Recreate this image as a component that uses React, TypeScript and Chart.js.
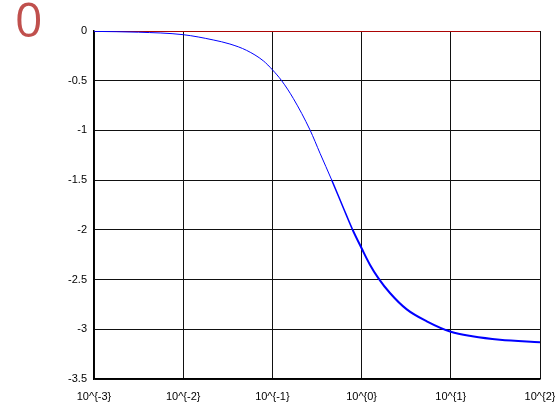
import React, { useEffect, useRef } from 'react';
import { Chart, registerables } from 'chart.js';

Chart.register(...registerables);

// frequency samples (x) and phase values (y)
const freq = [0.001, 0.00316, 0.01, 0.0217, 0.0334, 0.0514, 0.0791, 0.1, 0.127, 0.172, 0.264, 0.342, 0.462, 0.625, 0.794, 1, 1.24, 1.54, 2.08, 3.21, 5.38, 10, 17.4, 35.5, 100];
const phase = [-0.004, -0.012, -0.037, -0.09, -0.131, -0.195, -0.3, -0.39, -0.5, -0.68, -0.995, -1.23, -1.498, -1.78, -2.0, -2.185, -2.35, -2.485, -2.635, -2.8, -2.92, -3.025, -3.07, -3.105, -3.13];

// reference line at zero
const zeroX = [0.001, 100];
const zeroY = [0, 0];

const xTickValues = [0.001, 0.01, 0.1, 1, 10, 100];
const xTickLabels = ['10^{-3}', '10^{-2}', '10^{-1}', '10^{0}', '10^{1}', '10^{2}'];
const yTickValues = [-3.5, -3, -2.5, -2, -1.5, -1, -0.5, 0];
const yTickLabels = ['-3.5', '-3', '-2.5', '-2', '-1.5', '-1', '-0.5', '0'];

const titleText = '0';

export default function App() {
  const ref = useRef<HTMLCanvasElement | null>(null);

  useEffect(() => {
    if (!ref.current) return;
    const tickFont = { family: 'Liberation Sans', size: 11 };
    const chart = new Chart(ref.current, {
      type: 'line',
      data: {
        datasets: [
          {
            data: freq.map((f, i) => ({ x: f, y: phase[i] })),
            borderColor: '#0000ff',
            borderWidth: 1,
            pointRadius: 0,
            fill: false,
            cubicInterpolationMode: 'monotone',
            segment: {
              borderWidth: (ctx: any) => (ctx.p0.parsed.x < 0.42 ? 1 : ctx.p0.parsed.x < 0.75 ? 1.5 : 2),
            },
          },
          {
            data: zeroX.map((x, i) => ({ x, y: zeroY[i] })),
            borderColor: '#e00000',
            borderWidth: 1.6,
            pointRadius: 0,
            fill: false,
          },
        ],
      },
      options: {
        animation: false,
        responsive: false,
        maintainAspectRatio: false,
        layout: { padding: { left: 0, right: 15, top: 31, bottom: 0 } },
        plugins: { legend: { display: false }, tooltip: { enabled: false }, title: { display: false } },
        scales: {
          x: {
            type: 'logarithmic',
            min: 0.001,
            max: 100,
            afterBuildTicks: (s: any) => {
              s.ticks = xTickValues.map((value) => ({ value }));
            },
            afterFit: (s: any) => {
              s.paddingLeft = 0;
              s.paddingRight = 0;
              s.height = 26;
            },
            ticks: {
              autoSkip: false,
              maxRotation: 0,
              minRotation: 0,
              padding: 11,
              color: '#000',
              font: tickFont,
              callback: (_v: any, i: number) => xTickLabels[i],
            },
            grid: { color: '#111', lineWidth: 1, drawTicks: false },
            border: { display: true, color: '#000', width: 1.5 },
          },
          y: {
            type: 'linear',
            min: -3.5,
            max: 0,
            afterBuildTicks: (s: any) => {
              s.ticks = yTickValues.map((value) => ({ value }));
            },
            afterFit: (s: any) => {
              s.width = 94;
            },
            ticks: {
              padding: 7,
              color: '#000',
              font: tickFont,
              callback: (_v: any, i: number) => yTickLabels[i],
            },
            grid: { color: '#111', lineWidth: 1, drawTicks: false },
            border: { display: true, color: '#000', width: 1.5 },
          },
        },
      },
    });
    return () => chart.destroy();
  }, []);

  return (
    <div style={{ position: 'fixed', left: 0, top: 0, width: 555, height: 405, background: '#fff' }}>
      <canvas ref={ref} width={555} height={405} style={{ width: 555, height: 405, display: 'block' }} />
      <div
        style={{
          position: 'absolute',
          left: 15,
          top: -5,
          fontFamily: '"Open Sans", sans-serif',
          fontSize: 48,
          lineHeight: 1,
          color: '#c0504d',
        }}
      >
        {titleText}
      </div>
    </div>
  );
}
